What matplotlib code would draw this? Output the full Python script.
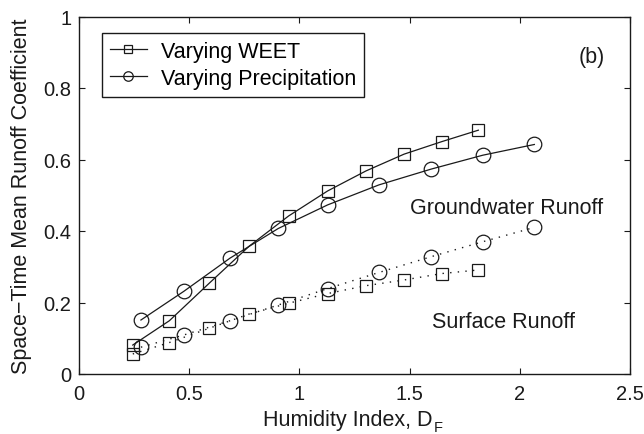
import matplotlib
matplotlib.use("Agg")
import matplotlib.pyplot as plt

plt.rcParams['font.family'] = ['Liberation Sans', 'DejaVu Sans']

# Varying WEET (squares)
weet_x = [0.244, 0.41, 0.591, 0.773, 0.951, 1.128, 1.302, 1.475, 1.646, 1.812]
weet_gw = [0.081, 0.149, 0.254, 0.358, 0.442, 0.512, 0.568, 0.615, 0.650, 0.682]
weet_sf = [0.056, 0.088, 0.128, 0.168, 0.198, 0.225, 0.247, 0.263, 0.281, 0.291]

# Varying Precipitation (circles)
prec_x = [0.281, 0.475, 0.685, 0.904, 1.128, 1.361, 1.597, 1.832, 2.066]
prec_gw = [0.151, 0.231, 0.324, 0.407, 0.473, 0.529, 0.573, 0.612, 0.642]
prec_sf = [0.075, 0.109, 0.149, 0.193, 0.239, 0.284, 0.328, 0.370, 0.410]

xticks = [0, 0.5, 1, 1.5, 2, 2.5]
xticklabels = ['0', '0.5', '1', '1.5', '2', '2.5']
yticks = [0, 0.2, 0.4, 0.6, 0.8, 1]
yticklabels = ['0', '0.2', '0.4', '0.6', '0.8', '1']

fs = 15.5
tfs = 14.5
c = '#1a1a1a'
dot = (0, (1, 4.5))

W, H = 644, 435
fig = plt.figure(figsize=(W/100, H/100), dpi=100)
ax = fig.add_axes([79/W, 1 - 375/H, (630-79)/W, (375-17.5)/H])

ax.plot(weet_x, weet_gw, '-', color=c, lw=0.9, marker='s', ms=9, mfc='none', mec=c, mew=0.9,
        label='Varying WEET')
ax.plot(prec_x, prec_gw, '-', color=c, lw=0.9, marker='o', ms=10.5, mfc='none', mec=c, mew=0.9,
        label='Varying Precipitation')
ax.plot(weet_x, weet_sf, linestyle=dot, color=c, lw=1.0, marker='s', ms=9, mfc='none', mec=c, mew=0.9)
ax.plot(prec_x, prec_sf, linestyle=dot, color=c, lw=1.0, marker='o', ms=10.5, mfc='none', mec=c, mew=0.9)

ax.set_xlim(0, 2.5)
ax.set_ylim(0, 1)
ax.set_xticks(xticks)
ax.set_xticklabels(xticklabels)
ax.set_yticks(yticks)
ax.set_yticklabels(yticklabels)
ax.tick_params(direction='in', top=True, right=True, labelsize=tfs, length=4.5, width=0.8,
               colors=c)
ax.tick_params(axis='x', pad=7)
ax.tick_params(axis='y', pad=5.5)
for s in ax.spines.values():
    s.set_linewidth(1.0)
    s.set_color(c)

ax.set_ylabel('Space\u2212Time Mean Runoff Coefficient', fontsize=fs, color=c)
ax.yaxis.set_label_coords(-0.086, 0.5)

# x label with a lowered subscript
xl = fig.text(263/W, 1 - 426/H, 'Humidity Index, D', fontsize=fs, color=c,
              ha='left', va='baseline')
renderer = fig.canvas.get_renderer()
bb = xl.get_window_extent(renderer=renderer)
fig.text((bb.x1 + 1)/W, 1 - 432.5/H, 'F', fontsize=10.5, color=c, ha='left', va='baseline')

ax.text(2.328, 0.872, '(b)', fontsize=fs, ha='center', va='baseline', color=c)
ax.text(1.942, 0.450, 'Groundwater Runoff', fontsize=fs, ha='center', va='baseline', color=c)
ax.text(1.926, 0.131, 'Surface Runoff', fontsize=fs, ha='center', va='baseline', color=c)

leg = ax.legend(loc='upper left', bbox_to_anchor=(0.0417, 0.955), fontsize=fs, frameon=True,
                fancybox=False, edgecolor=c, framealpha=1, handlelength=1.7, markerscale=0.65,
                borderpad=0.38, labelspacing=0.28, handletextpad=0.65, borderaxespad=0)
leg.get_frame().set_linewidth(1.0)

fig.savefig('out.png', dpi=100)
